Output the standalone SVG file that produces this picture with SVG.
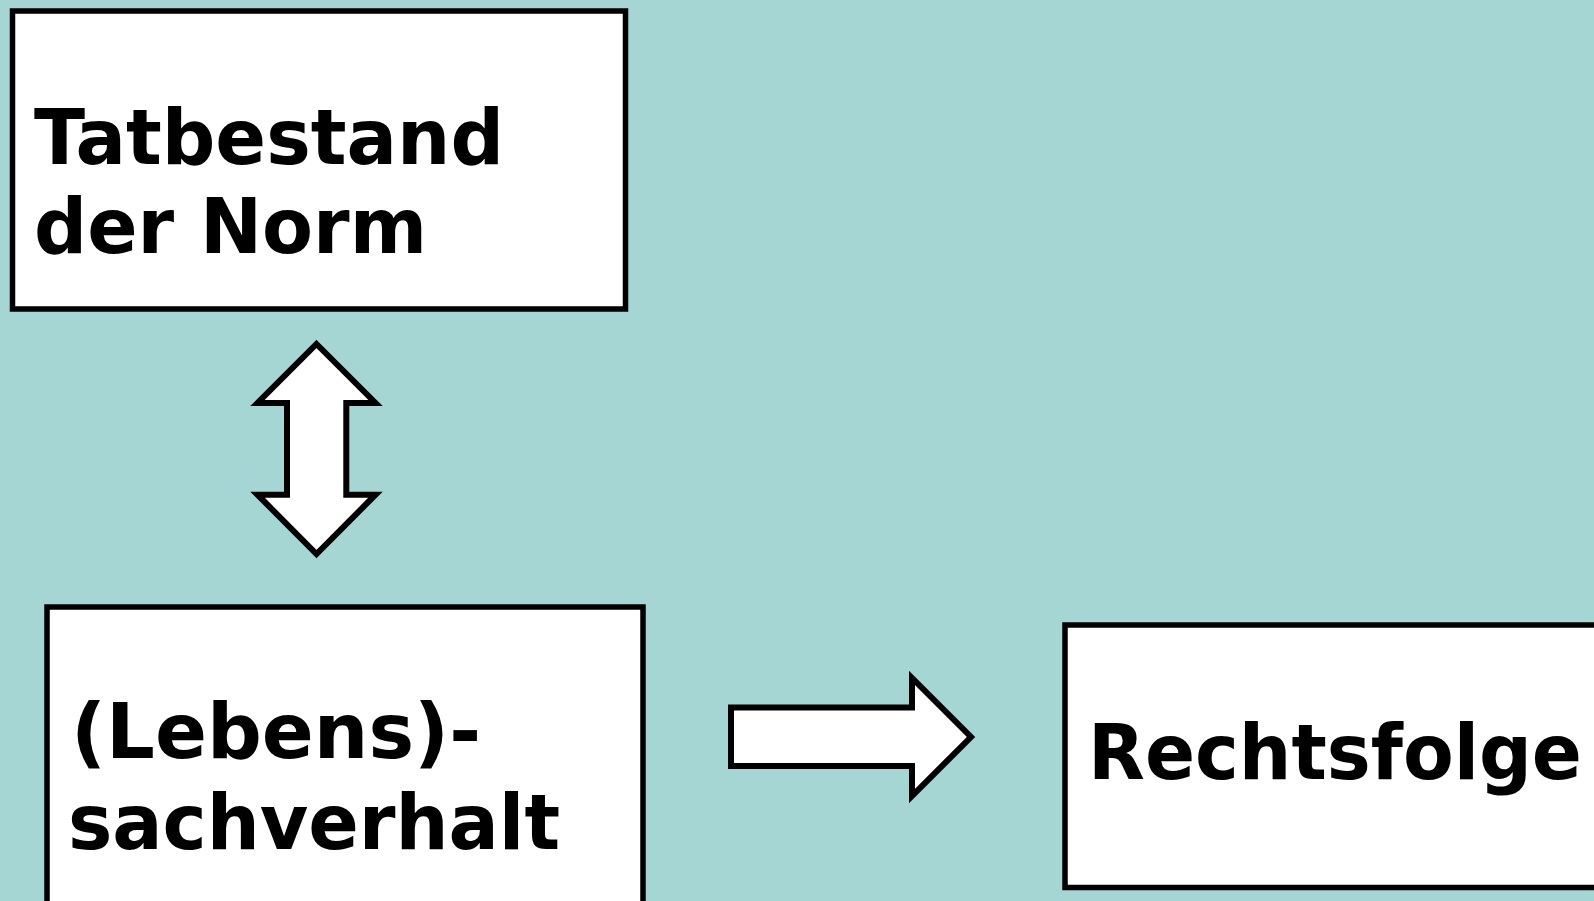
<svg xmlns="http://www.w3.org/2000/svg" width="1594" height="901" viewBox="0 0 1594 901">
<style>
.box{fill:#ffffff;stroke:#000000;stroke-width:5.5}
.arr{fill:#ffffff;stroke:#000000;stroke-width:6;stroke-linejoin:miter;stroke-miterlimit:10}
.t{font-family:"DejaVu Sans","Liberation Sans",sans-serif;font-weight:bold;font-size:76px;fill:#000000}
</style>
<rect x="0" y="0" width="1594" height="901" fill="#a5d6d3"/>
<g id="node-tatbestand">
<rect class="box" x="12.5" y="11" width="613" height="298"/>
<text class="t" x="34" y="164" textLength="470" lengthAdjust="spacingAndGlyphs">Tatbestand</text>
<text class="t" x="34" y="253" textLength="393" lengthAdjust="spacingAndGlyphs">der Norm</text>
</g>
<g id="node-sachverhalt">
<rect class="box" x="47" y="607" width="596" height="320"/>
<text class="t" x="71" y="758" textLength="410" lengthAdjust="spacingAndGlyphs">(Lebens)-</text>
<text class="t" x="68" y="849" textLength="492" lengthAdjust="spacingAndGlyphs">sachverhalt</text>
</g>
<g id="node-rechtsfolge">
<rect class="box" x="1065" y="625" width="560" height="262.5"/>
<text class="t" x="1088" y="779" textLength="494" lengthAdjust="spacingAndGlyphs">Rechtsfolge</text>
</g>
<g id="connectors">
<polygon class="arr" points="316.5,344 375.5,403 346.3,403 346.3,494.7 375.5,494.7 316.5,554 257.5,494.7 287,494.7 287,403 257.5,403"/>
<polygon class="arr" points="731,707.5 912,707.5 912,678 971,737 912,796 912,766 731,766"/>
</g>
</svg>
